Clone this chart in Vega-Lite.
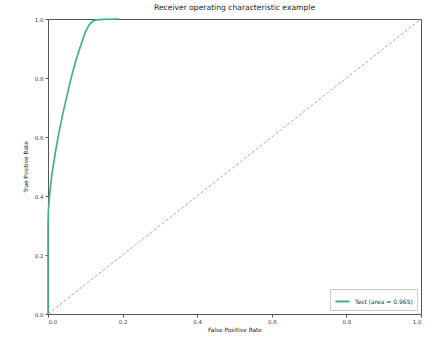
{
  "$schema": "https://vega.github.io/schema/vega-lite/v6.json",
  "width": 373,
  "height": 295,
  "autosize": {"type": "none"},
  "padding": {"left": 48, "top": 19, "right": 12, "bottom": 27},
  "background": "white",
  "config": {
    "font": "DejaVu Sans",
    "view": {"stroke": "#555555", "strokeWidth": 1},
    "axis": {
      "grid": false,
      "domain": false,
      "tickColor": "#555555",
      "tickSize": 3,
      "labelFontSize": 5.5,
      "labelColor": "#444444",
      "titleFontSize": 5.8,
      "titleFontWeight": "normal",
      "titleColor": "#222222"
    }
  },
  "title": {
    "text": "Receiver operating characteristic example",
    "fontSize": 7.6,
    "fontWeight": "normal",
    "color": "#222222",
    "offset": 4
  },
  "datasets": {
    "roc": [
      {"fpr": 0.0, "tpr": 0.0},
      {"fpr": 0.0, "tpr": 0.30},
      {"fpr": 0.001, "tpr": 0.35},
      {"fpr": 0.004, "tpr": 0.40},
      {"fpr": 0.01, "tpr": 0.47},
      {"fpr": 0.02, "tpr": 0.55},
      {"fpr": 0.03, "tpr": 0.62},
      {"fpr": 0.04, "tpr": 0.68},
      {"fpr": 0.05, "tpr": 0.735},
      {"fpr": 0.062, "tpr": 0.80},
      {"fpr": 0.073, "tpr": 0.852},
      {"fpr": 0.085, "tpr": 0.90},
      {"fpr": 0.10, "tpr": 0.955},
      {"fpr": 0.11, "tpr": 0.98},
      {"fpr": 0.12, "tpr": 0.993},
      {"fpr": 0.13, "tpr": 0.997},
      {"fpr": 0.15, "tpr": 0.999},
      {"fpr": 0.19, "tpr": 1.0}
    ],
    "diag": [
      {"fpr": 0.0, "tpr": 0.0},
      {"fpr": 1.0, "tpr": 1.0}
    ]
  },
  "layer": [
    {
      "data": {"name": "diag"},
      "mark": {"type": "line", "color": "#888888", "strokeWidth": 0.7, "strokeDash": [3, 2]},
      "encoding": {
        "x": {"field": "fpr", "type": "quantitative"},
        "y": {"field": "tpr", "type": "quantitative"}
      }
    },
    {
      "data": {"name": "roc"},
      "transform": [{"calculate": "'Test (area = 0.965)'", "as": "series"}],
      "mark": {"type": "line", "strokeWidth": 1.7, "clip": false},
      "encoding": {
        "x": {
          "field": "fpr",
          "type": "quantitative",
          "scale": {"domain": [0, 1], "nice": false},
          "axis": {"values": [0, 0.2, 0.4, 0.6, 0.8, 1.0], "format": ".1f", "title": "False Positive Rate", "titlePadding": 2}
        },
        "y": {
          "field": "tpr",
          "type": "quantitative",
          "scale": {"domain": [0, 1], "nice": false},
          "axis": {"values": [0, 0.2, 0.4, 0.6, 0.8, 1.0], "format": ".1f", "title": "True Positive Rate", "titlePadding": 6}
        },
        "order": {"field": "fpr"},
        "color": {
          "field": "series",
          "type": "nominal",
          "scale": {"range": ["#3cb38e"]},
          "legend": {
            "title": null,
            "orient": "bottom-right",
            "symbolType": "stroke",
            "symbolStrokeWidth": 2,
            "symbolSize": 200,
            "labelFontSize": 6,
            "labelColor": "#333333",
            "strokeColor": "#cccccc",
            "fillColor": "white",
            "padding": 4,
            "offset": 4
          }
        }
      }
    }
  ]
}
